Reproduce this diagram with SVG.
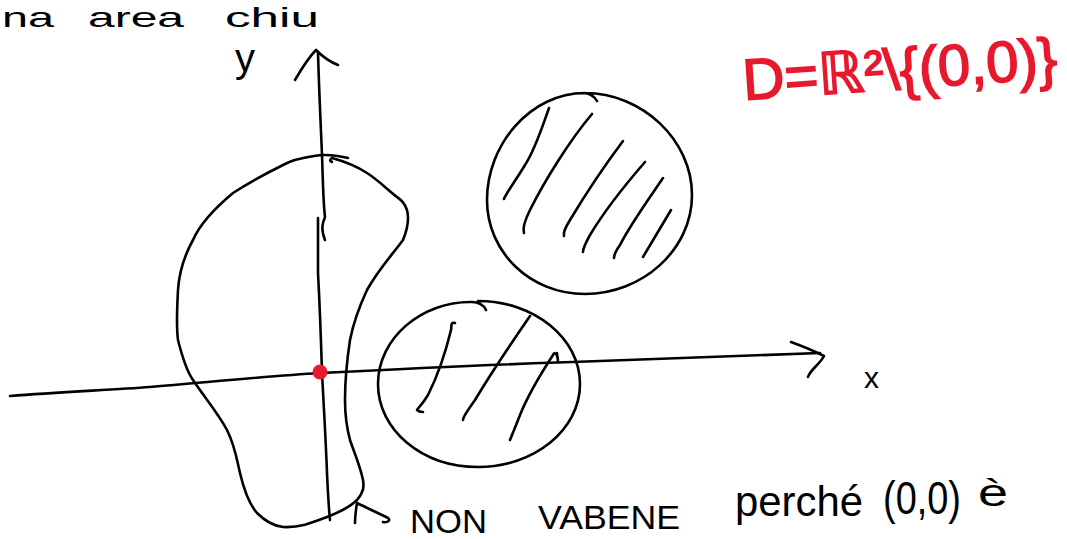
<svg xmlns="http://www.w3.org/2000/svg" width="1067" height="539" viewBox="0 0 1067 539">
<style>
.ink{fill:none;stroke:#000;stroke-width:2.6;stroke-linecap:round;stroke-linejoin:round}
.hand{font-family:"Liberation Sans","DejaVu Sans",sans-serif;fill:#000}
.red{font-family:"Liberation Sans","DejaVu Sans",sans-serif;fill:#e8192c;stroke:#e8192c;stroke-width:1.6}
</style>
<rect width="1067" height="539" fill="#fff"/>
<g id="title-cut">
<text class="hand" font-size="28">
<tspan x="2" y="27" textLength="52" lengthAdjust="spacingAndGlyphs">na</tspan>
<tspan x="88" y="27" textLength="96" lengthAdjust="spacingAndGlyphs">area</tspan>
<tspan x="225" y="27" textLength="94" lengthAdjust="spacingAndGlyphs">chiu</tspan>
</text>
</g>
<g id="connectors">
<path id="y-axis-top" class="ink" d="M318,52 C319,90 321,130 322,155 C323,180 323,200 325,217 C322,224 321,230 325,240"/>
<path id="y-axis" class="ink" d="M318,218 C318,240 318,260 318,273 C320,310 321,340 322,373 C324,410 326,445 327,473 C328,495 329,510 330,520"/>
<path id="y-arrow" class="ink" d="M295,80 C302,68 308,58 316,50 C322,56 330,62 338,65"/>
<path id="x-axis" class="ink" d="M10,396 C60,392 110,390 150,387 C210,382 270,376 320,373 C420,368 500,364 600,361 C680,358 760,355 820,353"/>
<path id="x-arrow" class="ink" d="M791,342 C802,346 814,351 824,356 C820,364 810,370 808,377"/>
<path id="note-arrow" class="ink" d="M355,523 C355,516 356,509 357,503 C367,508 378,513 388,518 C391,520 388,523 383,522"/>
</g>
<g id="labels">
<text class="hand" x="235" y="72" font-size="40">y</text>
<text class="hand" x="864" y="388" font-size="30">x</text>
</g>
<g id="blob">
<path class="ink" d="M348,158 C335,155 325,154 314,156 C300,158 290,161 283,165 C265,174 250,182 233,193 C215,208 200,224 193,240 C183,258 179,275 178,290 C177,310 176,325 178,340 C182,356 186,370 193,380 C205,398 218,413 227,430 C235,446 237,460 240,473 C244,490 250,505 257,513 C266,522 274,526 283,527 C300,528 314,522 327,517 C340,512 350,507 357,500 C364,492 364,486 363,480 C360,465 354,452 350,440 C346,425 345,413 345,400 C345,380 347,360 350,340 C354,320 360,305 367,290 C378,270 392,255 403,240 C408,228 409,218 407,210 C404,202 401,200 397,197 C388,190 378,180 367,173 C355,165 343,161 332,158 C329,160 330,161 332,162"/>
<circle cx="320" cy="372" r="7.5" fill="#e8192c"/>
</g>
<g id="disk-top">
<path class="ink" d="M585,93 C642,93 692,140 692,195 C692,250 642,294 585,294 C530,294 487,252 487,200 C487,145 530,93 585,93 C590,94 595,97 597,101"/>
<path class="ink" d="M549,108 C543,125 535,150 525,165 C516,180 505,195 504,199"/>
<path class="ink" d="M592,114 C570,140 545,180 530,210 C524,222 523,230 524,233"/>
<path class="ink" d="M623,141 C605,165 585,195 570,220 C565,228 563,233 564,236"/>
<path class="ink" d="M645,162 C625,185 605,210 590,235 C585,244 583,249 583,252"/>
<path class="ink" d="M663,178 C648,200 630,225 620,245 C615,252 614,256 614,258"/>
<path class="ink" d="M671,210 C662,225 652,242 643,257"/>
</g>
<g id="disk-bottom">
<path class="ink" d="M478,301 C534,301 580,338 580,384 C580,430 534,467 478,467 C422,467 378,430 378,384 C378,338 422,301 472,302 C478,302 484,305 486,310"/>
<path class="ink" d="M455,323 C450,322 452,326 451,330 C445,355 438,375 428,395 C422,405 418,408 417,410 C419,412 421,412 423,412"/>
<path class="ink" d="M530,316 C510,345 490,375 475,400 C468,410 463,416 463,420"/>
<path class="ink" d="M557,353 C557,355 558,359 558,361 C557,352 554,352 553,355 C540,375 528,395 520,415 C515,428 512,435 510,440"/>
</g>
<g id="domain-note">
<text class="red" x="744" y="100" font-size="58" transform="rotate(-4 744 100)">D=ℝ²\{(0,0)}</text>
</g>
<g id="bottom-note">
<text class="hand" font-size="34">
<tspan x="410" y="533" textLength="77" lengthAdjust="spacingAndGlyphs">NON</tspan>
<tspan x="538" y="529" textLength="142" lengthAdjust="spacingAndGlyphs">VABENE</tspan>
<tspan x="735" y="516" font-size="42" textLength="128" lengthAdjust="spacingAndGlyphs">perché</tspan>
</text>
<text class="hand" x="883" y="514" font-size="46" textLength="78" lengthAdjust="spacingAndGlyphs">(0,0)</text>
<text class="hand" x="978" y="506" font-size="38" textLength="30" lengthAdjust="spacingAndGlyphs">è</text>
</g>
</svg>
